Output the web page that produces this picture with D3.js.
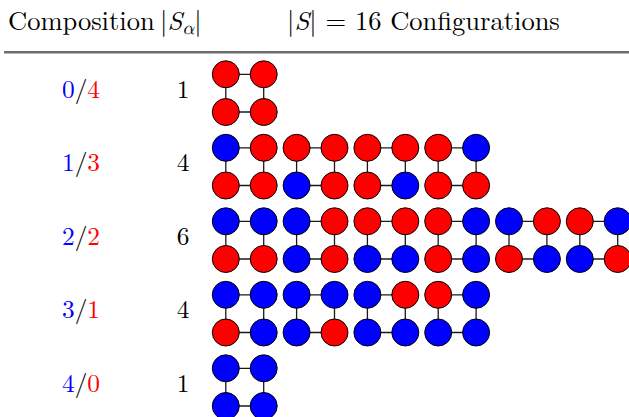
<!DOCTYPE html>
<html>
<head>
<meta charset="utf-8">
<script src="https://cdn.jsdelivr.net/npm/d3@7"></script>
<style>
  html, body { margin: 0; padding: 0; background: #ffffff; }
  svg { display: block; }
</style>
</head>
<body>
<div id="chart"></div>
<script>
// ---- data ----
const blueCounts = [0, 1, 2, 3, 4];
const redCounts  = [4, 3, 2, 1, 0];
const setSizes   = [1, 4, 6, 4, 1];
const totalSize  = 16;
// each configuration: top-left, top-right, bottom-left, bottom-right (B = blue, R = red)
const configs04 = ["RRRR"];
const configs13 = ["BRRR", "RRBR", "RRRB", "RBRR"];
const configs22 = ["BBRR", "BRBR", "RRBB", "RBRB", "BRRB", "RBBR"];
const configs31 = ["BBRB", "BBBR", "BRBB", "RBBB"];
const configs40 = ["BBBB"];
const configRows = [configs04, configs13, configs22, configs31, configs40];
const headerComposition = "Composition";
const headerConfigurations = "Configurations";

// ---- layout ----
const W = 629, H = 417;
const BLUE = "#0000ff", RED = "#ff0000";
const FONT = "'Latin Modern Roman', 'Liberation Serif', serif";
const GREEK = "'Latin Modern Math', 'Liberation Serif', serif";
const colorOf = c => c === "B" ? BLUE : RED;

const svg = d3.select("#chart").append("svg")
  .attr("width", W).attr("height", H)
  .attr("font-family", FONT);

const rowY = d3.scaleLinear().domain([0, 4]).range([74.3, 368.3]);   // top-row circle centre of each composition
const cfgX = d3.scaleLinear().domain([0, 5]).range([225.8, 225.8 + 5 * 70.8]); // left circle centre of each configuration
const siteX = d3.scaleLinear().domain([0, 1]).range([0, 37.9]);
const siteY = d3.scaleLinear().domain([0, 1]).range([0, 37.7]);
const R = 13.5;
const fs = 25.4;   // row labels
const hfs = 26.5;  // header

// ---- header ----
const hy = 30;
svg.append("text").attr("x", 8).attr("y", hy).attr("font-size", hfs)
  .attr("font-family", FONT).attr("fill", "#000").text(headerComposition);

const h2 = svg.append("text").attr("x", 160).attr("y", hy).attr("font-size", hfs)
  .attr("font-family", FONT).attr("fill", "#000");
h2.append("tspan").text("|");
h2.append("tspan").attr("font-style", "italic").text("S");
h2.append("tspan").attr("font-style", "italic").attr("font-family", GREEK)
  .attr("font-size", hfs * 0.7).attr("dy", 4).text("α");
h2.append("tspan").attr("dy", -4).text("|");

const h3 = svg.append("text").attr("x", 287).attr("y", hy).attr("font-size", hfs)
  .attr("font-family", FONT).attr("fill", "#000");
h3.append("tspan").text("|");
h3.append("tspan").attr("font-style", "italic").text("S");
h3.append("tspan").text("| = " + totalSize + " " + headerConfigurations);

// rule
svg.append("line").attr("x1", 4).attr("x2", W).attr("y1", 52.2).attr("y2", 52.2)
  .attr("stroke", "#6f6f6f").attr("stroke-width", 2.4);

// ---- rows ----
configRows.forEach((cfgs, i) => {
  const top = rowY(i);
  const mid = top + siteY(1) / 2;
  const base = mid + 4.5;

  const comp = svg.append("text").attr("x", 81).attr("y", base)
    .attr("font-size", fs).attr("font-family", FONT).attr("text-anchor", "middle");
  comp.append("tspan").attr("fill", BLUE).text(blueCounts[i]);
  comp.append("tspan").attr("fill", "#000").text("/");
  comp.append("tspan").attr("fill", RED).text(redCounts[i]);

  svg.append("text").attr("x", 183).attr("y", base)
    .attr("font-size", fs).attr("font-family", FONT).attr("text-anchor", "middle").attr("fill", "#000")
    .text(setSizes[i]);

  cfgs.forEach((cfg, k) => {
    const g = svg.append("g")
      .attr("transform", `translate(${cfgX(k)},${top})`);
    const sites = [
      { c: 0, r: 0 }, { c: 1, r: 0 }, { c: 0, r: 1 }, { c: 1, r: 1 }
    ];
    const bonds = [[0, 1], [2, 3], [0, 2], [1, 3]];
    g.selectAll("line").data(bonds).join("line")
      .attr("x1", d => siteX(sites[d[0]].c)).attr("y1", d => siteY(sites[d[0]].r))
      .attr("x2", d => siteX(sites[d[1]].c)).attr("y2", d => siteY(sites[d[1]].r))
      .attr("stroke", "#1a1a1a").attr("stroke-width", 1.3);
    g.selectAll("circle").data(sites).join("circle")
      .attr("cx", d => siteX(d.c)).attr("cy", d => siteY(d.r))
      .attr("r", R)
      .attr("fill", (d, s) => colorOf(cfg[s]))
      .attr("stroke", "#000").attr("stroke-width", 1);
  });
});
</script>
</body>
</html>
